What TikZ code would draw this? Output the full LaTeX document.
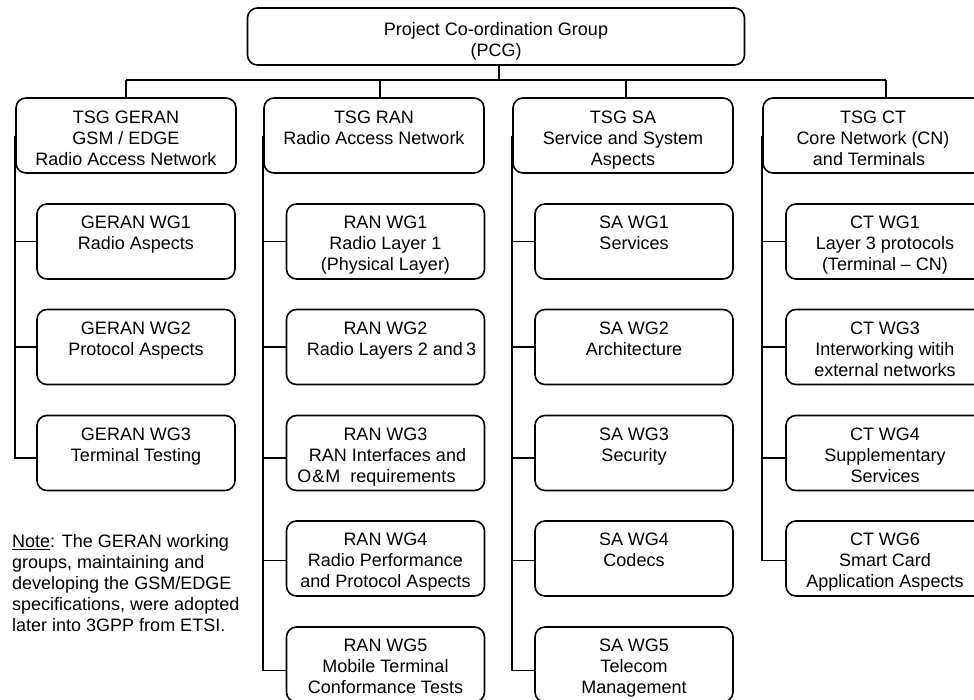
\documentclass[tikz,border=0pt]{standalone}
\usepackage{fontspec}
\setmainfont{Liberation Sans}
\begin{document}
\begin{tikzpicture}[x=1pt,y=-1pt,
  box/.style={draw, line width=1.6pt, rounded corners=10pt, inner sep=0pt},
  hdr/.style={box, minimum width=220pt, minimum height=75pt},
  wg/.style={box, minimum width=198pt, minimum height=75pt},
  txt/.style={font=\fontsize{18}{21}\selectfont, align=center, inner sep=0pt, anchor=north},
  conn/.style={line width=1.6pt},
]
\useasboundingbox (0,0) rectangle (974,699);
\clip (0,0) rectangle (974,699);

% top
\node[box, minimum width=497pt, minimum height=57pt] (pcg) at (496,36.5) {};
\node[txt] (pcgt) at ([yshift=-15pt]pcg.north) {Project Co-ordination Group\\(PCG)};

% headers
\node[hdr] (gh) at (126,135.5) {};
\node[hdr] (rh) at (374,135.5) {};
\node[hdr] (sh) at (623,135.5) {};
\node[hdr] (ch) at (873,135.5) {};
\node[txt] (ght) at ([yshift=-14pt]gh.north) {TSG GERAN\\GSM / EDGE\\Radio Access Network};
\node[txt] (rht) at ([yshift=-14pt]rh.north) {TSG RAN\\Radio Access Network};
\node[txt] (sht) at ([yshift=-14pt]sh.north) {TSG SA\\Service and System\\Aspects};
\node[txt] (cht) at ([yshift=-14pt]ch.north) {TSG CT\\Core Network (CN)\\and Terminals\hspace*{8pt}};

% GERAN WGs
\node[wg] (g1) at (136,241.5) {};
\node[wg] (g2) at (136,347) {};
\node[wg] (g3) at (136,453) {};
\node[txt] (g1t) at ([yshift=-13pt]g1.north) {GERAN WG1\\Radio Aspects};
\node[txt] (g2t) at ([yshift=-13pt]g2.north) {GERAN WG2\\Protocol Aspects};
\node[txt] (g3t) at ([yshift=-13pt]g3.north) {GERAN WG3\\Terminal Testing};

% RAN WGs
\node[wg] (r1) at (385.5,241.5) {};
\node[wg] (r2) at (385.5,347) {};
\node[wg] (r3) at (385.5,453) {};
\node[wg] (r4) at (385.5,558.5) {};
\node[wg] (r5) at (385.5,664.5) {};
\node[txt] (r1t) at ([yshift=-13pt]r1.north) {RAN WG1\\Radio Layer 1\\(Physical Layer)};
\node[txt] (r2t) at ([yshift=-13pt]r2.north) {RAN WG2\\\hspace*{12pt}Radio Layers 2 and\,3};
\node[txt] (r3t) at ([yshift=-13pt]r3.north) {RAN WG3\\\hspace*{4pt}RAN Interfaces and\\O\kern1pt\&\kern1pt M\ \ requirements\hspace*{18pt}};
\node[txt] (r4t) at ([yshift=-13pt]r4.north) {RAN WG4\\Radio Performance\\and Protocol Aspects};
\node[txt] (r5t) at ([yshift=-13pt]r5.north) {RAN WG5\\Mobile Terminal\\Conformance Tests};

% SA WGs
\node[wg] (s1) at (634,241.5) {};
\node[wg] (s2) at (634,347) {};
\node[wg] (s3) at (634,453) {};
\node[wg] (s4) at (634,558.5) {};
\node[wg] (s5) at (634,664.5) {};
\node[txt] (s1t) at ([yshift=-13pt]s1.north) {SA WG1\\Services};
\node[txt] (s2t) at ([yshift=-13pt]s2.north) {SA WG2\\Architecture};
\node[txt] (s3t) at ([yshift=-13pt]s3.north) {SA WG3\\Security};
\node[txt] (s4t) at ([yshift=-13pt]s4.north) {SA WG4\\Codecs};
\node[txt] (s5t) at ([yshift=-13pt]s5.north) {SA WG5\\Telecom\\Management};

% CT WGs
\node[wg] (c1) at (885,241.5) {};
\node[wg] (c3) at (885,347) {};
\node[wg] (c4) at (885,453) {};
\node[wg] (c6) at (885,558.5) {};
\node[txt] (c1t) at ([yshift=-13pt]c1.north) {CT WG1\\Layer 3 protocols\\(Terminal -- CN)};
\node[txt] (c3t) at ([yshift=-13pt]c3.north) {CT WG3\\Interworking witih\\external networks};
\node[txt] (c4t) at ([yshift=-13pt]c4.north) {CT WG4\\Supplementary\\Services};
\node[txt] (c6t) at ([yshift=-13pt]c6.north) {CT WG6\\Smart Card\\Application Aspects};

% note
\node[font=\fontsize{18}{21}\selectfont, align=left, inner sep=0pt, anchor=north west] (note) at (12,534)
  {\underline{Note}: The GERAN working\\groups, maintaining and\\developing the GSM/EDGE\\specifications, were adopted\\later into 3GPP from ETSI.};

% bus
\coordinate (dg) at (126,80);
\coordinate (dr) at (380,80);
\coordinate (ds) at (626,80);
\coordinate (dc) at (886,80);
\draw[conn] (dg) -- (dc);
\draw[conn] ([xshift=3pt]pcg.south) -- ([xshift=3pt]pcg.south |- dg);
\draw[conn] (dg) -- (dg |- gh.north);
\draw[conn] (dr) -- (dr |- rh.north);
\draw[conn] (ds) -- (ds |- sh.north);
\draw[conn] (dc) -- (dc |- ch.north);

% GERAN tree
\draw[conn] (gh.west) |- ([yshift=-5pt]g3.west);
\draw[conn] (gh.west |- g1.west) -- (g1.west);
\draw[conn] (gh.west |- g2.west) -- (g2.west);

% RAN tree
\draw[conn] (rh.west) |- ([yshift=-6pt]r5.west);
\draw[conn] (rh.west |- r1.west) -- (r1.west);
\draw[conn] (rh.west |- r2.west) -- (r2.west);
\draw[conn] ([yshift=-5pt]rh.west |- r3.west) -- ([yshift=-5pt]r3.west);
\draw[conn] ([yshift=-2pt]rh.west |- r4.west) -- ([yshift=-2pt]r4.west);

% SA tree
\draw[conn] (sh.west) |- ([yshift=-6pt]s5.west);
\draw[conn] (sh.west |- s1.west) -- (s1.west);
\draw[conn] (sh.west |- s2.west) -- (s2.west);
\draw[conn] ([yshift=-5pt]sh.west |- s3.west) -- ([yshift=-5pt]s3.west);
\draw[conn] ([yshift=-2pt]sh.west |- s4.west) -- ([yshift=-2pt]s4.west);

% CT tree
\draw[conn] (ch.west) |- ([yshift=-2pt]c6.west);
\draw[conn] (ch.west |- c1.west) -- (c1.west);
\draw[conn] (ch.west |- c3.west) -- (c3.west);
\draw[conn] ([yshift=-5pt]ch.west |- c4.west) -- ([yshift=-5pt]c4.west);
\end{tikzpicture}
\end{document}
